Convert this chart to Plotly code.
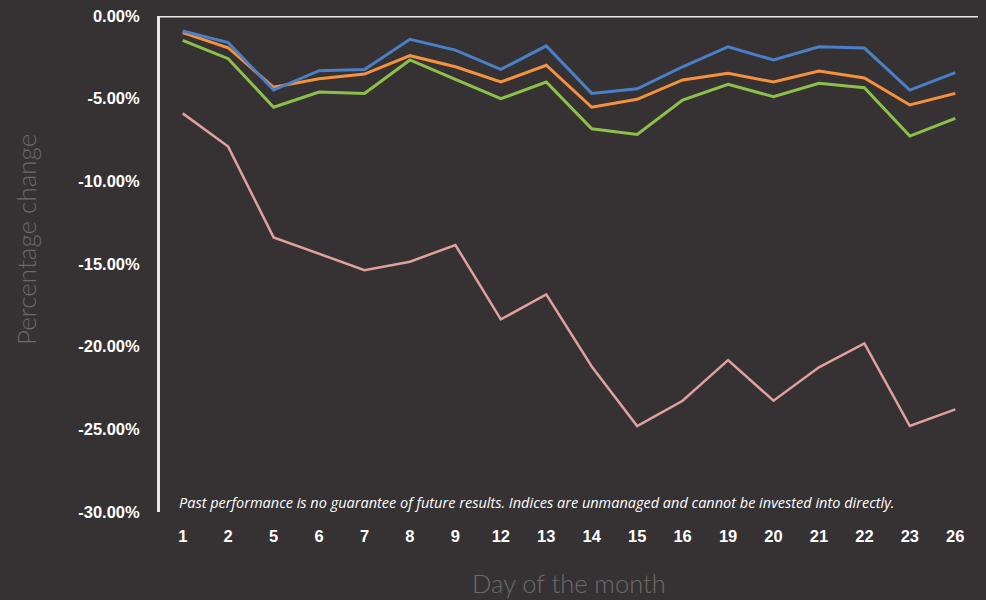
import plotly.graph_objects as go

days = ["1", "2", "5", "6", "7", "8", "9", "12", "13", "14", "15", "16", "19", "20", "21", "22", "23", "26"]

blue = [-0.91, -1.61, -4.48, -3.31, -3.23, -1.41, -2.06, -3.23, -1.81, -4.68, -4.40, -3.07,
        -1.86, -2.66, -1.86, -1.94, -4.48, -3.43]
orange = [-1.01, -1.92, -4.31, -3.79, -3.51, -2.40, -3.07, -3.99, -2.98, -5.52, -5.04, -3.87,
          -3.47, -3.99, -3.33, -3.75, -5.38, -4.68]
green = [-1.47, -2.58, -5.52, -4.60, -4.68, -2.66, -3.83, -5.00, -3.99, -6.82, -7.16, -5.08,
         -4.13, -4.88, -4.07, -4.34, -7.26, -6.19]
pink = [-5.89, -7.90, -13.39, -14.36, -15.37, -14.86, -13.85, -18.35, -16.84, -21.2, -24.80, -23.27,
        -20.81, -23.27, -21.25, -19.80, -24.80, -23.79]

ytickvals = [0, -5, -10, -15, -20, -25, -30]
yticktext = ["0.00%", "-5.00%", "-10.00%", "-15.00%", "-20.00%", "-25.00%", "-30.00%"]

bg = "#363233"
fig = go.Figure()
series = [
    (pink, "#E0A09C", 2.5),
    (green, "#8DC04B", 3),
    (orange, "#F6923E", 3),
    (blue, "#4A80C8", 3),
]
for vals, col, w in series:
    fig.add_trace(go.Scatter(x=days, y=[v / 100 for v in vals], mode="lines",
                             line=dict(color=col, width=w), showlegend=False,
                             hoverinfo="skip"))

tickfont = dict(size=16.5, color="white", family="Liberation Sans", weight="bold")
fig.update_layout(
    width=986, height=600,
    paper_bgcolor=bg, plot_bgcolor=bg,
    margin=dict(l=160, r=8, t=16, b=88),
    font=dict(family="Liberation Sans", color="white"),
    xaxis=dict(type="category", range=[-0.5, len(days) - 0.5], showgrid=False, zeroline=False,
               showline=False, ticks="", tickfont=tickfont, ticklabelstandoff=12),
    yaxis=dict(range=[-0.30, 0], tickvals=[v / 100 for v in ytickvals], ticktext=yticktext,
               showgrid=False, zeroline=False, showline=True, linecolor="#E8E8E8", linewidth=3,
               ticks="", tickfont=tickfont, ticklabelstandoff=14),
    shapes=[dict(type="line", xref="paper", yref="y", x0=0, x1=1, y0=0, y1=0,
                 line=dict(color="#E8E8E8", width=3))],
    annotations=[
        dict(text="Past performance is no guarantee of future results. Indices are unmanaged and cannot be invested into directly.",
             xref="paper", yref="paper", x=0.021, y=0.02, xanchor="left", yanchor="middle",
             showarrow=False, font=dict(size=14.5, color="white", family="Open Sans", style="italic")),
        dict(text="Percentage change", xref="paper", yref="paper", x=-0.164, xanchor="center",
             y=0.55, yanchor="middle", textangle=-90, showarrow=False,
             font=dict(size=26, color="#6E6A6B", family="Lato", weight=300)),
        dict(text="Day of the month", xref="paper", yref="paper", x=0.5, xanchor="center",
             y=-0.143, yanchor="middle", showarrow=False,
             font=dict(size=25.5, color="#6E6A6B", family="Lato", weight=300)),
    ],
)
fig.write_html("out.html", config={"displayModeBar": False},
               post_script="document.body.style.margin='0';document.body.style.overflow='hidden';")
